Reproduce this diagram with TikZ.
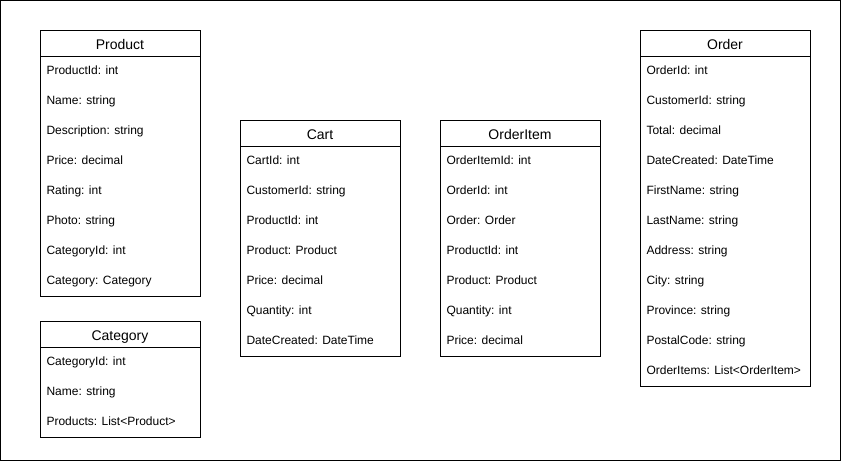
\documentclass[tikz,border=0pt]{standalone}
\usepackage{fontspec}
\setmainfont{Liberation Sans}
\begin{document}
\begin{tikzpicture}[x=1pt,y=-1pt,line width=1pt,
  box/.style={draw=black,fill=white,anchor=north west,inner sep=0pt,minimum width=#1},
  hdr/.style={font=\fontsize{14}{16}\selectfont,anchor=base},
  field/.style={font=\fontsize{12}{14}\selectfont,anchor=base west,inner sep=0pt}]
\useasboundingbox (0,0) rectangle (841,461);
\draw (0.5,0.5) rectangle (840.5,460.5);
% Product
\node[box=160pt,minimum height=266pt] (productbox) at (40,30) {};
\node[box=160pt,minimum height=26pt] (producthead) at (40,30) {};
\node[hdr] (producttitle) at (120,49) {Product};
\foreach [count=\i] \t in {ProductId: int,Name: string,Description: string,Price: decimal,Rating: int,Photo: string,CategoryId: int,Category: Category}
  \node[field] (product-\i) at (46,{56+18+30*(\i-1)}) {\t};
% Category
\node[box=160pt,minimum height=116pt] (categorybox) at (40,321) {};
\node[box=160pt,minimum height=26pt] (categoryhead) at (40,321) {};
\node[hdr] (categorytitle) at (120,340) {Category};
\foreach [count=\i] \t in {CategoryId: int,Name: string,Products: List<Product>}
  \node[field] (category-\i) at (46,{347+18+30*(\i-1)}) {\t};
% Cart
\node[box=160pt,minimum height=236pt] (cartbox) at (240,120) {};
\node[box=160pt,minimum height=26pt] (carthead) at (240,120) {};
\node[hdr] (carttitle) at (320,139) {Cart};
\foreach [count=\i] \t in {CartId: int,CustomerId: string,ProductId: int,Product: Product,Price: decimal,Quantity: int,DateCreated: DateTime}
  \node[field] (cart-\i) at (246,{146+18+30*(\i-1)}) {\t};
% OrderItem
\node[box=160pt,minimum height=236pt] (orderitembox) at (440,120) {};
\node[box=160pt,minimum height=26pt] (orderitemhead) at (440,120) {};
\node[hdr] (orderitemtitle) at (520,139) {OrderItem};
\foreach [count=\i] \t in {OrderItemId: int,OrderId: int,Order: Order,ProductId: int,Product: Product,Quantity: int,Price: decimal}
  \node[field] (orderitem-\i) at (446,{146+18+30*(\i-1)}) {\t};
% Order
\node[box=170pt,minimum height=356pt] (orderbox) at (640,30) {};
\node[box=170pt,minimum height=26pt] (orderhead) at (640,30) {};
\node[hdr] (ordertitle) at (725,49) {Order};
\foreach [count=\i] \t in {OrderId: int,CustomerId: string,Total: decimal,DateCreated: DateTime,FirstName: string,LastName: string,Address: string,City: string,Province: string,PostalCode: string,OrderItems: List<OrderItem>}
  \node[field] (order-\i) at (646,{56+18+30*(\i-1)}) {\t};
\end{tikzpicture}
\end{document}
